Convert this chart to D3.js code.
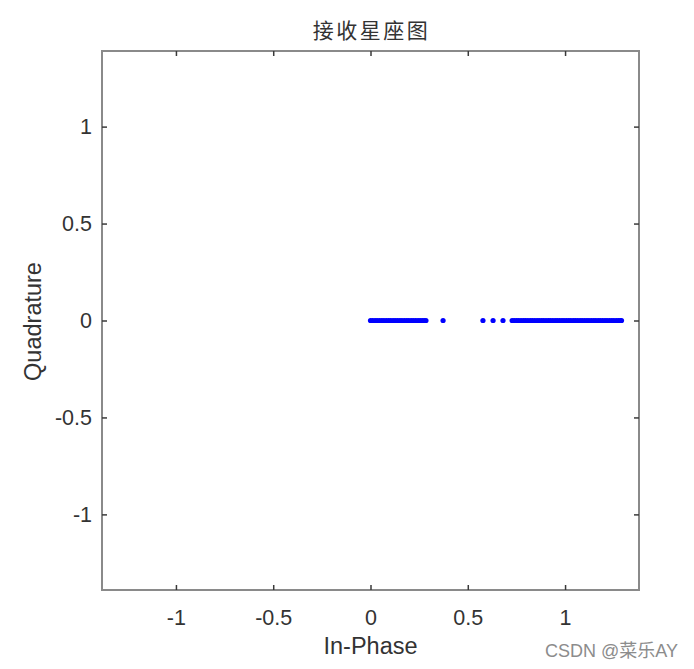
<!DOCTYPE html>
<html>
<head>
<meta charset="utf-8">
<script src="https://cdn.jsdelivr.net/npm/d3@7"></script>
<style>
  html, body { margin: 0; padding: 0; background: #fff; }
  svg { display: block; }
</style>
</head>
<body>
<svg id="chart" width="694" height="669"></svg>
<script>
// ---- data ----
const titleText = "接收星座图";
const xLabelText = "In-Phase";
const yLabelText = "Quadrature";
const watermarkText = "CSDN @菜乐AY";
const xTicks = [-1, -0.5, 0, 0.5, 1];
const yTicks = [-1, -0.5, 0, 0.5, 1];
const xTickLabels = ["-1", "-0.5", "0", "0.5", "1"];
const yTickLabels = ["-1", "-0.5", "0", "0.5", "1"];
// received symbols: in-phase values
const inPhase = [
  0.000, 0.011, 0.023, 0.034, 0.046, 0.058, 0.069, 0.081, 0.093, 0.104,
  0.116, 0.127, 0.139, 0.151, 0.162, 0.174, 0.186, 0.197, 0.209, 0.220,
  0.232, 0.244, 0.255, 0.266, 0.276, 0.285,
  0.373,
  0.578, 0.630, 0.681,
  0.728, 0.739, 0.751, 0.762, 0.774, 0.786, 0.797, 0.809, 0.821, 0.832,
  0.844, 0.856, 0.867, 0.879, 0.890, 0.902, 0.914, 0.925, 0.937, 0.949,
  0.960, 0.972, 0.984, 0.995, 1.007, 1.019, 1.030, 1.042, 1.053, 1.065,
  1.077, 1.088, 1.100, 1.112, 1.123, 1.135, 1.147, 1.158, 1.170, 1.181,
  1.193, 1.205, 1.216, 1.228, 1.240, 1.251, 1.263, 1.274, 1.284, 1.290
];
// quadrature values (all zero)
const quadrature = inPhase.map(() => 0);

// ---- chart ----
const svg = d3.select("#chart");
const L = 102, R = 639, T = 51, B = 590;
const x = d3.scaleLinear().domain([-1.38, 1.38]).range([L, R]);
const y = d3.scaleLinear().domain([-1.39, 1.39]).range([B, T]);

const tickColor = "#3a3a3a";
const textColor = "#333333";
const fontFam = "'Liberation Sans', Arial, sans-serif";

// box
svg.append("rect")
  .attr("x", L).attr("y", T).attr("width", R - L).attr("height", B - T)
  .attr("fill", "none").attr("stroke", "#8a8a8a").attr("stroke-width", 2);

function styleAxis(g, showText) {
  g.select(".domain").remove();
  g.selectAll(".tick line").attr("stroke", tickColor).attr("stroke-width", 1.5);
  g.selectAll(".tick text")
    .attr("fill", textColor)
    .style("font-family", fontFam)
    .style("font-size", "21.5px")
    .style("display", showText ? null : "none");
}

const fmtX = (d, i) => xTickLabels[i];
const fmtY = (d, i) => yTickLabels[i];

svg.append("g").attr("transform", `translate(0,${B})`)
  .call(d3.axisBottom(x).tickValues(xTicks).tickFormat(fmtX).tickSizeInner(-5).tickSizeOuter(0).tickPadding(20))
  .call(g => styleAxis(g, true));
svg.append("g").attr("transform", `translate(0,${T})`)
  .call(d3.axisTop(x).tickValues(xTicks).tickSizeInner(-5).tickSizeOuter(0))
  .call(g => styleAxis(g, false));
svg.append("g").attr("transform", `translate(${L},0)`)
  .call(d3.axisLeft(y).tickValues(yTicks).tickFormat(fmtY).tickSizeInner(-5).tickSizeOuter(0).tickPadding(10))
  .call(g => styleAxis(g, true));
svg.append("g").attr("transform", `translate(${R},0)`)
  .call(d3.axisRight(y).tickValues(yTicks).tickSizeInner(-5).tickSizeOuter(0))
  .call(g => styleAxis(g, false));

// points
svg.append("g").selectAll("circle")
  .data(inPhase.map((v, i) => [v, quadrature[i]]))
  .join("circle")
  .attr("cx", d => x(d[0]))
  .attr("cy", d => y(d[1]))
  .attr("r", 2.6)
  .attr("fill", "#0000ff");

// title
svg.append("text")
  .attr("x", (L + R) / 2 + 1).attr("y", 38)
  .attr("text-anchor", "middle")
  .attr("fill", "#333")
  .style("font-family", "'Noto Sans CJK SC', sans-serif")
  .style("font-size", "21px")
  .style("letter-spacing", "2.5px")
  .text(titleText);

// axis labels
svg.append("text")
  .attr("x", (L + R) / 2).attr("y", 654)
  .attr("text-anchor", "middle")
  .attr("fill", textColor)
  .style("font-family", fontFam)
  .style("font-size", "23.5px")
  .text(xLabelText);

svg.append("text")
  .attr("transform", `translate(41,${(T + B) / 2 + 1}) rotate(-90)`)
  .attr("text-anchor", "middle")
  .attr("fill", textColor)
  .style("font-family", fontFam)
  .style("font-size", "23.5px")
  .text(yLabelText);

// watermark
svg.append("text")
  .attr("x", 545).attr("y", 657)
  .attr("fill", "#8c8c8c")
  .style("font-family", "'Liberation Sans', 'Noto Sans CJK SC', sans-serif")
  .style("font-size", "18px")
  .text(watermarkText);
</script>
</body>
</html>
